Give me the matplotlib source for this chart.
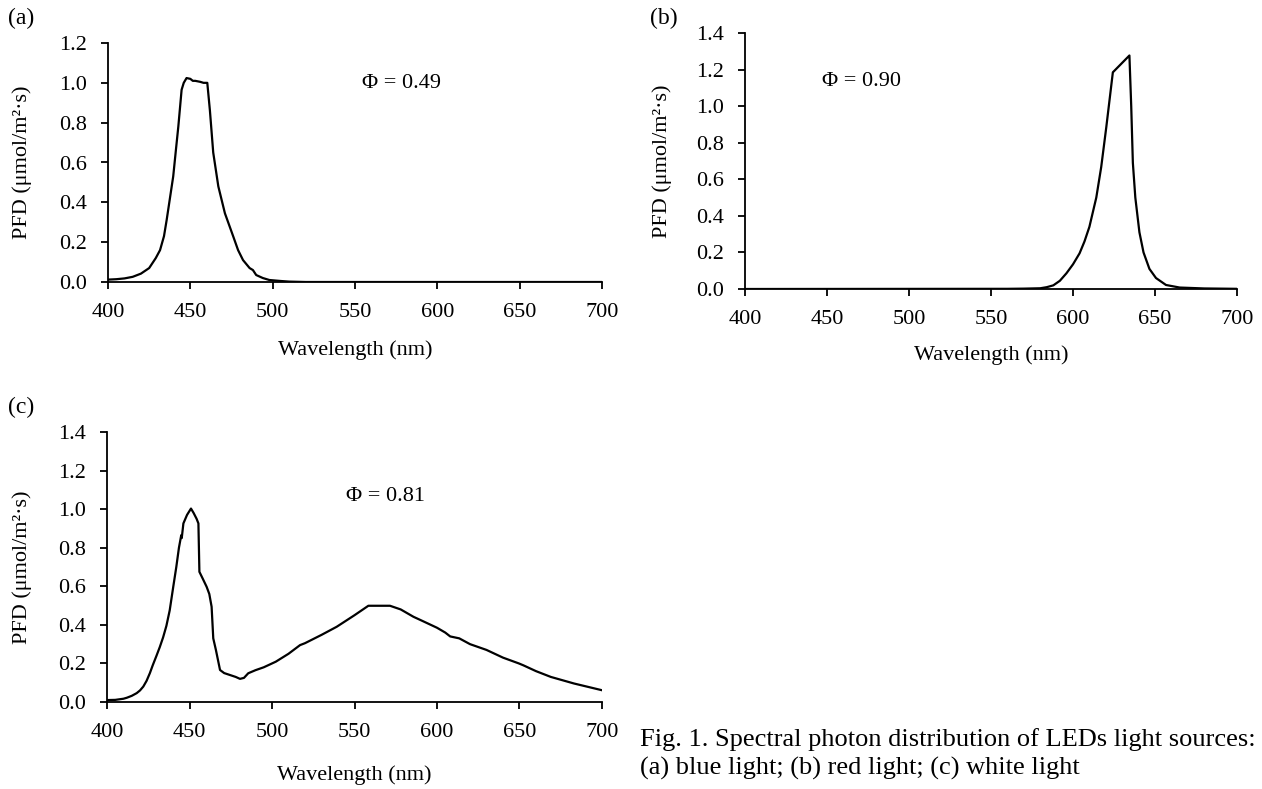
import matplotlib
matplotlib.use("Agg")
import matplotlib.pyplot as plt

plt.rcParams['font.family'] = ['Liberation Serif', 'DejaVu Serif']

# ---------------- data ----------------
wl_a = [400, 405, 410, 415, 420, 425, 429, 431.6, 434, 435.6, 437.6, 439.6, 441.2, 442.7, 444.7,
        446, 447.7, 450, 451.5, 453, 456, 458, 460.3, 461.9, 463.9, 467, 471, 476, 479, 482,
        486, 488, 490, 494, 498, 505, 510, 520, 700]
pfd_a = [0.012, 0.014, 0.018, 0.026, 0.042, 0.07, 0.12, 0.16, 0.23, 0.31, 0.42, 0.53, 0.66, 0.78, 0.965,
         1.0, 1.024, 1.02, 1.01, 1.01, 1.005, 1.0, 1.0, 0.86, 0.65, 0.48, 0.345, 0.23, 0.16, 0.11,
         0.07, 0.06, 0.035, 0.02, 0.01, 0.005, 0.002, 0.0, 0.0]

wl_b = [400, 560, 570, 580, 584, 588, 592, 596, 600, 604, 607, 610, 614.2, 617.2, 620.3, 624.3, 634.4,
        635.5, 636.5, 638, 640.5, 643, 646.6, 650.6, 656.7, 665, 680, 700]
pfd_b = [0.0, 0.001, 0.002, 0.004, 0.01, 0.02, 0.045, 0.086, 0.135, 0.195, 0.26, 0.34, 0.50, 0.667, 0.885,
         1.185, 1.277, 1.0, 0.69, 0.5, 0.31, 0.2, 0.11, 0.06, 0.022, 0.008, 0.003, 0.001]

wl_c = [400, 405, 410, 412, 415, 418, 420, 422, 424, 426, 427.7, 430, 432, 434, 436, 438, 440.2,
        442, 443.6, 445, 445.3, 446.3, 448.5,
        450.9, 452.5, 454.3, 455.4, 456, 458, 460.4, 462, 463.4, 464.4, 466, 468.5, 471, 474.5, 478,
        480.6, 483, 485.6, 490, 495, 502.3, 510, 517, 520, 530, 539.2, 550, 558.4, 571.5, 578,
        585.7, 590, 600, 605, 608, 613.5, 620, 630, 640, 649.6, 652.4, 660, 669, 683, 700]
pfd_c = [0.01, 0.011, 0.017, 0.022, 0.032, 0.046, 0.06, 0.08, 0.11, 0.15, 0.19, 0.24, 0.285, 0.335, 0.395,
         0.475, 0.6, 0.7, 0.8, 0.865, 0.85, 0.926, 0.97,
         1.003, 0.98, 0.95, 0.926, 0.675, 0.64, 0.597, 0.56, 0.494, 0.33, 0.27, 0.166, 0.15, 0.14, 0.13,
         0.12, 0.125, 0.149, 0.165, 0.18, 0.209, 0.25, 0.295, 0.305, 0.348, 0.39, 0.45, 0.499, 0.499, 0.48,
         0.442, 0.425, 0.385, 0.36, 0.34, 0.33, 0.3, 0.27, 0.23, 0.2, 0.19, 0.16, 0.13, 0.096, 0.061]

x_ticks = [400, 450, 500, 550, 600, 650, 700]
y_ticks_a = [0.0, 0.2, 0.4, 0.6, 0.8, 1.0, 1.2]
y_ticks_bc = [0.0, 0.2, 0.4, 0.6, 0.8, 1.0, 1.2, 1.4]
phi_labels = ["Φ = 0.49", "Φ = 0.90", "Φ = 0.81"]
panel_labels = ["(a)", "(b)", "(c)"]
xlabel = "Wavelength (nm)"
ylabel = "PFD (μmol/m²·s)"
caption1 = "Fig. 1. Spectral photon distribution of LEDs light sources:"
caption2 = "(a) blue light; (b) red light; (c) white light"

W, H = 1262, 789
fig = plt.figure(figsize=(W / 100, H / 100), dpi=100)

FS = 16


def make_ax(left, top, right, bottom):
    ax = fig.add_axes([left / W, 1 - bottom / H, (right - left) / W, (bottom - top) / H])
    ax._px = (left, top, right, bottom)
    return ax


def style(ax, yt, ylab_x, xlab_y):
    left, top, right, bottom = ax._px
    ax.set_xlim(400, 700)
    ax.set_ylim(0, yt[-1])
    ax.set_xticks(x_ticks)
    ax.set_yticks(yt)
    ax.set_yticklabels([f"{v:.1f}" for v in yt])
    for s in ['top', 'right']:
        ax.spines[s].set_visible(False)
    for s in ['left', 'bottom']:
        ax.spines[s].set_linewidth(1.3)
        ax.spines[s].set_color('black')
    ax.tick_params(direction='out', length=5, width=1.3, labelsize=FS)
    ax.tick_params(axis='x', pad=10)
    ax.tick_params(axis='y', pad=10)
    ax.set_xlabel(xlabel, fontsize=FS, va='center')
    ax.set_ylabel(ylabel, fontsize=FS, va='center')
    ax.yaxis.set_label_coords((ylab_x - left) / (right - left), 0.5)
    ax.xaxis.set_label_coords(0.5, (bottom - xlab_y) / (bottom - top))
    ax.patch.set_visible(False)


def phi(ax, text, xc, yc):
    left, top, right, bottom = ax._px
    ax.text((xc - left) / (right - left), (bottom - yc) / (bottom - top), text, fontsize=FS,
            ha='center', va='center', transform=ax.transAxes)


ax_a = make_ax(108, 43, 602, 282)
ax_a.plot(wl_a, pfd_a, color='black', lw=1.6)
style(ax_a, y_ticks_a, 22, 350)
phi(ax_a, phi_labels[0], 402, 83)

ax_b = make_ax(745, 33, 1237, 289)
ax_b.plot(wl_b, pfd_b, color='black', lw=1.6)
style(ax_b, y_ticks_bc, 662, 355)
phi(ax_b, phi_labels[1], 862, 81)

ax_c = make_ax(107, 432, 602, 702)
ax_c.plot(wl_c, pfd_c, color='black', lw=1.6)
style(ax_c, y_ticks_bc, 22, 775)
phi(ax_c, phi_labels[2], 386, 497)

fig.text(8 / W, 1 - 18 / H, panel_labels[0], fontsize=17, ha='left', va='center')
fig.text(650 / W, 1 - 18 / H, panel_labels[1], fontsize=17, ha='left', va='center')
fig.text(8 / W, 1 - 407 / H, panel_labels[2], fontsize=17, ha='left', va='center')

fig.text(640 / W, 1 - 740 / H, caption1, fontsize=19, ha='left', va='center')
fig.text(640 / W, 1 - 768 / H, caption2, fontsize=19, ha='left', va='center')

fig.savefig("out.png", dpi=100)
